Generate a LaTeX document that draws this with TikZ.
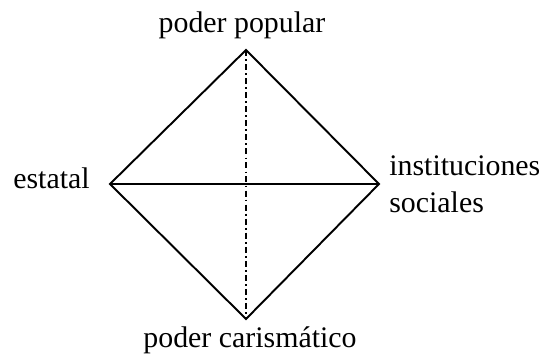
\documentclass[tikz,border=0pt]{standalone}
\usepackage{fontspec}
\setmainfont{Liberation Serif}
\usetikzlibrary{positioning}

\tikzset{
  edge/.style={line width=1.1pt, line join=miter},
  axis/.style={line width=1pt, dash pattern=on 3.4pt off 1.8pt on 1pt off 1.8pt},
  lbl/.style={font=\fontsize{17}{21.6}\selectfont, inner sep=0pt}
}

\begin{document}
\begin{tikzpicture}[x=0.02cm, y=-0.02cm]
  \useasboundingbox (0,0) rectangle (548,354);

  % vertices of the diamond
  \coordinate (top) at (246,50);
  \coordinate (left) at (110,184);
  \coordinate (right) at (379,184);
  \coordinate (bottom) at (246,319);

  % labels
  \node[lbl, anchor=base] (popular) at (242,33) {poder popular};
  \node[lbl, anchor=base east] (estatal) at (90,189) {estatal};
  \node[lbl, anchor=base west, align=left] (sociales) at (389,213)
    {instituciones\\sociales};
  \node[lbl, anchor=base] (carisma) at (250,348) {poder carismático};

  % diamond and axes
  \draw[edge] (top) -- (right) -- (bottom) -- (left) -- cycle;
  \draw[edge] (left) -- (right);
  \draw[axis] (top) -- (bottom);
\end{tikzpicture}
\end{document}
